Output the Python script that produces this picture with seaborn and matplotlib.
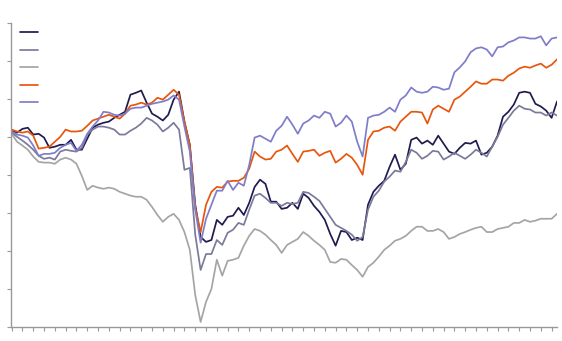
import numpy as np
import pandas as pd
import seaborn as sns
import matplotlib.pyplot as plt

# x axis in quarters, two readings per quarter
quarter = np.arange(102) * 0.5

navy = [51.6, 51.1, 52.1, 52.4, 50.6, 50.8, 49.8, 47.1, 47.4, 47.9,
        47.9, 49.2, 46.6, 46.6, 49.5, 52.4, 53.2, 53.7, 54.0, 55.0,
        55.8, 56.6, 61.1, 61.6, 62.2, 59.0, 56.1, 55.3, 54.3, 55.8,
        59.8, 61.9, 54.0, 47.9, 32.1, 23.6, 22.3, 22.8, 28.1, 26.8,
        28.9, 29.2, 31.3, 29.4, 32.6, 36.8, 38.7, 37.6, 32.9, 32.9,
        31.0, 31.3, 32.6, 31.0, 35.0, 33.9, 31.8, 30.2, 28.1, 24.4,
        21.3, 25.2, 24.9, 22.8, 23.4, 22.8, 32.1, 35.5, 37.1, 38.4,
        42.1, 45.3, 41.3, 42.9, 49.2, 49.8, 48.2, 49.0, 47.9, 50.3,
        48.2, 46.1, 45.5, 47.1, 48.4, 48.2, 49.0, 45.3, 45.8, 47.4,
        50.3, 55.3, 56.6, 58.5, 61.6, 61.9, 61.6, 58.7, 58.0, 56.9,
        55.0, 59.3]

slate = [51.1, 50.0, 49.0, 47.9, 46.6, 45.0, 44.2, 44.5, 44.0, 46.1,
         46.6, 46.3, 46.1, 47.1, 50.6, 51.9, 52.7, 52.7, 52.4, 51.9,
         50.6, 50.6, 51.6, 52.4, 53.5, 55.0, 54.3, 53.2, 51.4, 52.4,
         53.7, 51.9, 41.3, 41.8, 24.2, 14.9, 19.1, 19.1, 22.8, 21.5,
         24.7, 25.5, 27.3, 26.8, 30.8, 34.5, 35.0, 33.9, 32.6, 32.6,
         31.8, 32.6, 32.3, 32.6, 35.5, 35.2, 34.2, 33.1, 31.0, 28.9,
         26.8, 26.0, 25.2, 24.2, 22.6, 23.6, 30.8, 34.2, 35.8, 38.2,
         39.5, 41.1, 40.8, 43.4, 46.6, 45.8, 44.2, 45.0, 46.3, 46.1,
         44.0, 44.8, 45.8, 45.0, 44.2, 45.3, 46.6, 45.8, 44.8, 47.4,
         50.0, 53.2, 55.0, 56.9, 58.2, 57.4, 57.2, 56.4, 56.4, 55.6,
         56.4, 55.6]

grey = [50.8, 48.7, 47.7, 46.6, 44.8, 43.4, 43.2, 43.2, 42.9, 44.0,
        44.5, 44.0, 42.9, 39.7, 36.0, 37.1, 36.6, 36.3, 36.6, 36.3,
        35.5, 35.0, 34.5, 34.2, 34.2, 33.4, 31.5, 29.4, 27.6, 28.9,
        29.7, 28.1, 24.9, 20.2, 8.3, 1.2, 6.5, 9.9, 17.6, 13.4,
        17.3, 17.6, 18.1, 21.3, 23.9, 25.7, 25.2, 24.2, 22.8, 21.5,
        19.4, 21.5, 22.3, 23.1, 24.9, 23.9, 22.6, 21.5, 20.2, 17.0,
        16.8, 17.8, 17.6, 16.2, 14.9, 13.1, 15.7, 16.8, 18.4, 20.2,
        21.3, 22.6, 23.1, 23.9, 25.2, 26.3, 26.3, 25.2, 25.2, 25.7,
        24.9, 23.1, 23.6, 24.4, 24.9, 25.5, 26.0, 26.3, 24.9, 24.9,
        25.7, 26.0, 26.3, 27.3, 27.3, 28.1, 27.6, 27.9, 28.4, 28.4,
        28.4, 29.7]

orange = [51.9, 51.4, 51.1, 51.4, 50.3, 46.9, 47.1, 47.4, 48.7, 50.0,
          51.9, 51.4, 51.4, 51.6, 52.9, 54.3, 54.8, 55.3, 55.8, 55.3,
          54.8, 56.1, 58.2, 58.5, 59.0, 58.5, 59.0, 60.3, 59.8, 61.1,
          62.4, 61.1, 54.0, 47.7, 31.3, 24.9, 32.1, 35.5, 36.8, 36.6,
          38.2, 38.4, 38.4, 39.2, 41.6, 46.1, 44.8, 44.0, 44.2, 46.1,
          46.6, 47.7, 45.5, 43.4, 46.1, 46.3, 46.6, 45.0, 45.8, 46.3,
          43.2, 44.2, 45.5, 44.5, 42.6, 40.0, 49.2, 51.4, 51.6, 52.4,
          52.7, 51.6, 54.0, 55.3, 56.6, 56.6, 56.4, 53.5, 57.2, 58.2,
          57.4, 56.6, 59.8, 60.6, 61.9, 63.2, 64.6, 64.0, 64.0, 65.1,
          65.1, 64.8, 66.1, 66.9, 68.0, 68.5, 68.2, 68.8, 69.3, 68.2,
          69.0, 70.4]

lilac = [51.4, 50.6, 50.3, 49.8, 47.7, 45.0, 45.5, 45.5, 45.8, 47.1,
         47.9, 48.4, 46.3, 47.9, 50.8, 52.7, 54.3, 56.6, 56.4, 55.8,
         55.6, 56.1, 57.4, 57.7, 57.7, 58.2, 58.7, 59.0, 59.3, 59.8,
         60.9, 59.8, 52.7, 46.1, 30.8, 22.1, 28.4, 32.1, 35.8, 35.8,
         38.4, 36.0, 37.9, 37.1, 42.6, 49.8, 50.3, 49.5, 48.7, 51.6,
         52.9, 55.3, 53.2, 50.8, 53.5, 54.3, 55.6, 55.0, 56.6, 56.1,
         52.7, 53.7, 55.6, 54.0, 48.7, 44.8, 55.0, 55.6, 55.8, 56.6,
         57.7, 56.6, 59.8, 60.9, 63.0, 61.9, 61.6, 61.9, 63.2, 63.0,
         62.4, 62.7, 67.0, 68.3, 69.9, 72.3, 73.3, 73.6, 73.0, 71.2,
         73.6, 73.8, 74.9, 75.4, 76.2, 76.2, 75.9, 75.9, 76.5, 74.1,
         75.9, 76.2]

names = ['navy', 'slate', 'grey', 'orange', 'lilac']
colors = ['#1f1b4e', '#7b7a9b', '#a5a5a5', '#e8560c', '#7f7dca']

df = pd.DataFrame({'quarter': quarter, 'navy': navy, 'slate': slate,
                   'grey': grey, 'orange': orange, 'lilac': lilac})
df = df.melt(id_vars='quarter', var_name='series', value_name='value')

sns.set_theme(style='ticks')
fig = plt.figure(figsize=(5.62, 3.41), dpi=100)
ax = fig.add_axes([11 / 562, 14.5 / 341, 546 / 562, 303.5 / 341])

sns.lineplot(data=df, x='quarter', y='value', hue='series', hue_order=names,
             palette=colors, linewidth=1.25, ax=ax)

ax.set_xlim(-0.06, 50.5)
ax.set_ylim(0, 80)
ax.set_xticks(np.arange(0, 51))
ax.set_yticks(np.arange(0, 81, 10))
ax.set_xticklabels([])
ax.set_yticklabels([])
ax.set_xlabel('')
ax.set_ylabel('')
ax.tick_params(axis='x', direction='out', length=2.6, width=0.8, color='#999999')
ax.tick_params(axis='y', direction='out', length=3, width=0.8, color='#999999')
for side in ['top', 'right']:
    ax.spines[side].set_visible(False)
for side in ['left', 'bottom']:
    ax.spines[side].set_color('#999999')
    ax.spines[side].set_linewidth(1)

# legend has line samples only, no text
handles = ax.get_legend_handles_labels()[0]
ax.legend(handles, [''] * 5, loc='upper left', bbox_to_anchor=(20 / 562, 1 - 26 / 341),
          bbox_transform=fig.transFigure, frameon=False, fontsize=10,
          handlelength=1.3, handletextpad=0, labelspacing=0.25,
          borderpad=0, borderaxespad=0)

fig.savefig('out.png', dpi=100)
